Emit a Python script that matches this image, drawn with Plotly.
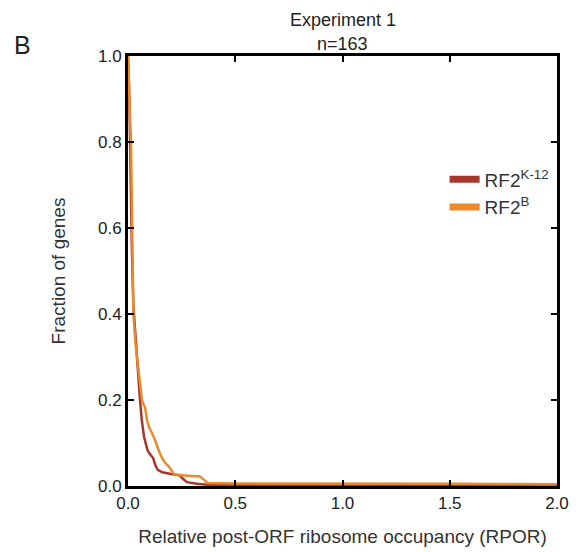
import plotly.graph_objects as go

# Survival-style curves: fraction of genes with RPOR above x (n=163)
k12_x = [0, 0.004, 0.008, 0.012, 0.018, 0.025, 0.033, 0.045, 0.056, 0.065, 0.075, 0.09,
         0.098, 0.117, 0.13, 0.14, 0.16, 0.2, 0.24, 0.26, 0.275, 0.32, 0.37, 0.5, 1.0, 1.5, 2.0]
k12_y = [1.0, 0.95, 0.85, 0.7, 0.55, 0.42, 0.36, 0.27, 0.2, 0.15, 0.114, 0.085,
         0.077, 0.065, 0.045, 0.037, 0.032, 0.028, 0.025, 0.015, 0.009, 0.005, 0.003, 0.002, 0.001, 0.0006, 0.0]

b_x = [0, 0.004, 0.01, 0.014, 0.02, 0.025, 0.035, 0.05, 0.065, 0.072, 0.079, 0.09, 0.098,
       0.11, 0.126, 0.145, 0.164, 0.18, 0.196, 0.21, 0.22, 0.28, 0.336, 0.36, 0.37, 0.5, 1.0, 1.5, 2.0]
b_y = [1.0, 0.92, 0.85, 0.8, 0.6, 0.4, 0.33, 0.26, 0.2, 0.19, 0.184, 0.15, 0.137,
       0.125, 0.107, 0.08, 0.06, 0.05, 0.042, 0.03, 0.026, 0.024, 0.022, 0.012, 0.007, 0.006, 0.006, 0.005, 0.004]

names = ["RF2<sup>K-12</sup>", "RF2<sup>B</sup>"]
colors = ["#a5372b", "#ea8a2a"]

x_ticks = [0.0, 0.5, 1.0, 1.5, 2.0]
y_ticks = [0.0, 0.2, 0.4, 0.6, 0.8, 1.0]

title_lines = ["Experiment 1", "n=163"]

FONT = "Liberation Sans, Arial, Helvetica, sans-serif"

fig = go.Figure()
fig.add_trace(go.Scatter(x=k12_x, y=k12_y, mode="lines", line=dict(color=colors[0], width=2.5),
                         showlegend=False))
fig.add_trace(go.Scatter(x=b_x, y=b_y, mode="lines", line=dict(color=colors[1], width=2.5),
                         showlegend=False))
# legend-only entries with thick swatches
for n, c in zip(names, colors):
    fig.add_trace(go.Scatter(x=[None], y=[None], mode="lines", name=n,
                             line=dict(color=c, width=7)))

axis_common = dict(
    showline=True, linecolor="black", linewidth=3, mirror="ticks",
    ticks="inside", ticklen=6, tickwidth=1.5, tickcolor="black",
    showgrid=False, zeroline=False, automargin=False,
    tickfont=dict(family=FONT, size=17, color="#222"),
)

fig.update_layout(
    width=584, height=552,
    margin=dict(l=128, r=27, t=56, b=66),
    plot_bgcolor="white", paper_bgcolor="white",
    font=dict(family=FONT, color="#222"),
    xaxis=dict(range=[0, 2.0], tickvals=x_ticks, ticktext=[f"{v:.1f}" for v in x_ticks],
               title=dict(text="Relative post-ORF ribosome occupancy (RPOR)",
                          font=dict(family=FONT, size=19, color="#333"), standoff=18),
               **axis_common),
    yaxis=dict(range=[0, 1.0], tickvals=y_ticks, ticktext=[f"{v:.1f}" for v in y_ticks],
               title=dict(text="Fraction of genes",
                          font=dict(family=FONT, size=19, color="#333"), standoff=28),
               **axis_common),
    legend=dict(x=0.738, y=0.757, xanchor="left", yanchor="top", bgcolor="rgba(0,0,0,0)",
                font=dict(family=FONT, size=19, color="#333"), itemwidth=30,
                tracegroupgap=4),
    annotations=[
        dict(text="B", xref="paper", yref="paper", x=-0.27, y=1.062,
             xanchor="left", yanchor="top", showarrow=False,
             font=dict(family=FONT, size=25, color="#222")),
        dict(text=title_lines[0], xref="paper", yref="paper", x=0.5, y=1.084,
             xanchor="center", yanchor="middle", showarrow=False,
             font=dict(family=FONT, size=18, color="#222")),
        dict(text=title_lines[1], xref="paper", yref="paper", x=0.5, y=1.028,
             xanchor="center", yanchor="middle", showarrow=False,
             font=dict(family=FONT, size=18, color="#222")),
    ],
)

fig.write_html("out.html")
